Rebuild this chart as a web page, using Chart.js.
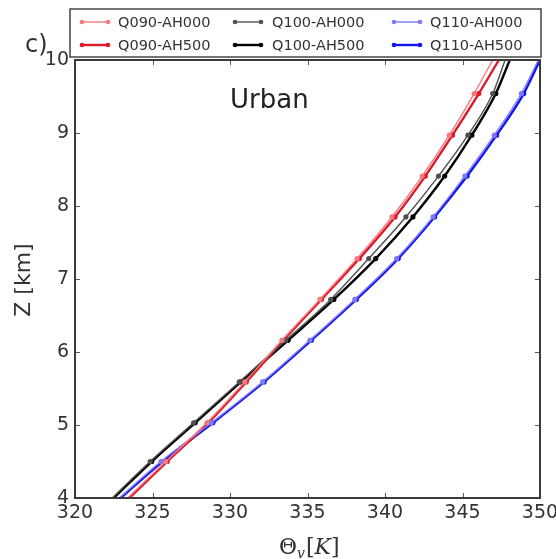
<!DOCTYPE html>
<html>
<head>
<meta charset="utf-8">
<script src="https://cdn.jsdelivr.net/npm/chart.js@4/dist/chart.umd.min.js"></script>
<style>
  html, body { margin: 0; padding: 0; background: #fff; }
  #wrap { width: 556px; height: 559px; }
</style>
</head>
<body>
<div id="wrap"><canvas id="c" width="556" height="559"></canvas></div>
<script>
// Height levels (km); the first and last entries close the profile at the axis limits
const heightKm = [4.0, 4.5, 5.03, 5.59, 6.16, 6.72, 7.28, 7.85, 8.41, 8.97, 9.54, 10.0];

// Virtual potential temperature profiles (K)
const q090ah000 = [323.4, 325.85, 328.5, 330.95, 333.35, 335.8, 338.2, 340.45, 342.4, 344.15, 345.75, 346.95];
const q100ah000 = [322.4, 324.85, 327.65, 330.6, 333.6, 336.5, 338.95, 341.35, 343.45, 345.35, 346.95, 347.75];
const q110ah000 = [322.85, 325.55, 328.8, 332.1, 335.15, 338.05, 340.75, 343.1, 345.15, 347.05, 348.8, 349.9];
const q090ah500 = [323.5, 325.95, 328.6, 331.05, 333.45, 335.9, 338.35, 340.65, 342.6, 344.35, 346.05, 347.35];
const q100ah500 = [322.5, 324.95, 327.75, 330.7, 333.75, 336.7, 339.4, 341.8, 343.85, 345.6, 347.15, 348.05];
const q110ah500 = [322.95, 325.65, 328.9, 332.2, 335.25, 338.15, 340.85, 343.2, 345.3, 347.2, 348.95, 350.0];

const seriesNames = ['Q090-AH000', 'Q100-AH000', 'Q110-AH000', 'Q090-AH500', 'Q100-AH500', 'Q110-AH500'];
const seriesValues = [q090ah000, q100ah000, q110ah000, q090ah500, q100ah500, q110ah500];
const seriesColors = ['#f07a80', '#505050', '#7a7af5', '#e01828', '#000000', '#1414f0'];
const seriesWidths = [1.4, 1.4, 1.4, 2.4, 2.4, 2.4];

const thetaMin = 320, thetaMax = 350, thetaStep = 5;
const zMin = 4, zMax = 10, zStep = 1;

const tickFont = { family: 'DejaVu Sans', size: 19 };
const inkColor = '#333333';

const datasets = seriesNames.map((name, i) => ({
  label: name,
  data: heightKm.map((z, k) => ({ x: seriesValues[i][k], y: z })),
  showLine: true,
  borderColor: seriesColors[i],
  backgroundColor: seriesColors[i],
  borderWidth: seriesWidths[i],
  cubicInterpolationMode: 'monotone',
  pointRadius: ctx => (ctx.dataIndex === 0 || ctx.dataIndex === heightKm.length - 1) ? 0 : 2.6,
  pointBorderWidth: 0,
  pointHoverRadius: 0
}));

// Frame, inward ticks, legend box and annotations
const decorations = {
  id: 'decorations',
  afterDatasetsDraw(chart) {
    const { ctx, chartArea: a, scales } = chart;
    ctx.save();
    // inward ticks on all four sides
    ctx.strokeStyle = '#555';
    ctx.lineWidth = 1;
    const tl = 5;
    for (let t = thetaMin + thetaStep; t < thetaMax; t += thetaStep) {
      const px = Math.round(scales.x.getPixelForValue(t)) + 0.5;
      ctx.beginPath();
      ctx.moveTo(px, a.bottom); ctx.lineTo(px, a.bottom - tl);
      ctx.moveTo(px, a.top); ctx.lineTo(px, a.top + tl);
      ctx.stroke();
    }
    for (let z = zMin + zStep; z < zMax; z += zStep) {
      const py = Math.round(scales.y.getPixelForValue(z)) + 0.5;
      ctx.beginPath();
      ctx.moveTo(a.left, py); ctx.lineTo(a.left + tl, py);
      ctx.moveTo(a.right, py); ctx.lineTo(a.right - tl, py);
      ctx.stroke();
    }
    // plot frame
    ctx.strokeStyle = '#3a3a3a';
    ctx.lineWidth = 2;
    ctx.strokeRect(a.left, a.top, a.right - a.left, a.bottom - a.top);

    // legend box
    ctx.fillStyle = '#fff';
    ctx.fillRect(70, 9, 471, 48);
    ctx.strokeStyle = '#444';
    ctx.lineWidth = 1.5;
    ctx.strokeRect(70, 9, 471, 48);
    const sampleX = [82, 235, 394];
    const textX = [118, 272, 430];
    const rowY = [22, 45];
    ctx.font = '14.5px "DejaVu Sans"';
    ctx.textBaseline = 'middle';
    ctx.textAlign = 'left';
    chart.data.datasets.forEach((ds, i) => {
      const col = i % 3, row = Math.floor(i / 3);
      const x0 = sampleX[col], x1 = x0 + 26, y = rowY[row];
      ctx.strokeStyle = ds.borderColor;
      ctx.lineWidth = ds.borderWidth;
      ctx.beginPath(); ctx.moveTo(x0, y); ctx.lineTo(x1, y); ctx.stroke();
      ctx.fillStyle = ds.borderColor;
      [x0, x1].forEach(px => { ctx.beginPath(); ctx.arc(px, y, 2.3, 0, Math.PI * 2); ctx.fill(); });
      ctx.fillStyle = inkColor;
      ctx.fillText(ds.label, textX[col], y + 1);
    });

    // panel letter and region name
    ctx.fillStyle = inkColor;
    ctx.textBaseline = 'alphabetic';
    ctx.font = '24px "DejaVu Sans"';
    ctx.fillText('c)', 25, 52);
    ctx.fillStyle = '#222';
    ctx.font = '26px "DejaVu Sans"';
    ctx.fillText('Urban', 230, 108);

    // y-axis title
    ctx.save();
    ctx.translate(24, 280);
    ctx.rotate(-Math.PI / 2);
    ctx.textAlign = 'center';
    ctx.textBaseline = 'middle';
    ctx.fillStyle = inkColor;
    ctx.font = '22px "DejaVu Sans"';
    ctx.fillText('Z [km]', 0, 0);
    ctx.restore();

    // x-axis title: Θ_v[K]
    ctx.fillStyle = inkColor;
    ctx.textAlign = 'left';
    ctx.textBaseline = 'alphabetic';
    let x = 279;
    const base = 554;
    ctx.font = '22px "DejaVu Serif"';
    ctx.fillText('Θ', x, base); x += ctx.measureText('Θ').width;
    ctx.font = 'italic 14px "DejaVu Serif"';
    ctx.fillText('v', x, base + 4); x += ctx.measureText('v').width + 1;
    ctx.font = '22px "DejaVu Serif"';
    ctx.fillText('[', x, base); x += ctx.measureText('[').width;
    ctx.font = 'italic 22px "DejaVu Serif"';
    ctx.fillText('K', x, base); x += ctx.measureText('K').width;
    ctx.font = '22px "DejaVu Serif"';
    ctx.fillText(']', x, base);
    ctx.restore();
  }
};

new Chart(document.getElementById('c'), {
  type: 'scatter',
  data: { datasets },
  options: {
    responsive: false,
    animation: false,
    devicePixelRatio: 1,
    layout: { padding: { top: 60, right: 16, bottom: 0, left: 0 } },
    plugins: { legend: { display: false }, tooltip: { enabled: false } },
    scales: {
      x: {
        type: 'linear',
        min: thetaMin, max: thetaMax,
        grid: { display: false, drawTicks: false },
        border: { display: false },
        ticks: { stepSize: thetaStep, font: tickFont, color: inkColor, padding: 4 },
        afterFit: s => { s.height = 61; s.paddingLeft = 0; s.paddingRight = 0; }
      },
      y: {
        type: 'linear',
        min: zMin, max: zMax,
        grid: { display: false, drawTicks: false },
        border: { display: false },
        ticks: { stepSize: zStep, font: tickFont, color: inkColor, padding: 6 },
        afterFit: s => { s.width = 75; s.paddingTop = 0; s.paddingBottom = 0; }
      }
    }
  },
  plugins: [decorations]
});
</script>
</body>
</html>
